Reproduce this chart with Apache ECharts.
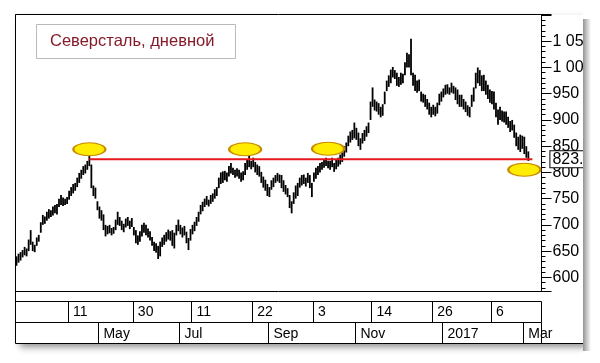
<!DOCTYPE html>
<html><head><meta charset="utf-8">
<script src="https://cdn.jsdelivr.net/npm/echarts@6/dist/echarts.min.js"></script>
<style>html,body{margin:0;padding:0;background:#fff}#c{width:600px;height:363px}</style>
</head><body><div id="c"></div>
<script>
// ---- data ----
const startDate = '2016-03-02';
const categoryCount = 260;
const holidays = ['2016-03-07','2016-03-08','2016-05-02','2016-05-03','2016-05-09','2016-06-13',
  '2016-11-04','2017-01-02','2017-02-23','2017-03-08'];

const lows = [622,628,632,638,642,640,650,662,650,648,660,668,685,700,702,708,712,715,718,722,
720,734,738,736,738,740,748,755,760,765,772,780,788,795,798,805,812,770,755,750,
728,712,708,690,678,682,684,680,683,690,700,698,690,686,695,698,692,696,680,665,
662,668,678,685,680,676,670,660,650,647,635,640,658,662,668,672,670,660,655,680,
688,682,676,680,665,652,670,682,688,698,706,720,726,734,738,735,740,744,750,755,
770,778,780,785,782,792,798,795,790,792,788,782,785,795,805,810,806,810,800,795,
792,780,771,765,755,753,767,772,780,783,780,770,763,758,753,732,722,740,750,755,
771,775,778,773,780,770,753,782,788,795,800,805,809,812,808,805,810,801,806,811,
815,820,830,838,850,857,862,865,862,850,843,855,860,868,875,900,925,918,916,910,
905,908,930,955,963,970,981,978,965,963,967,970,985,1000,1000,985,965,955,952,955,
935,933,925,920,910,905,910,907,912,928,935,943,948,950,948,952,950,938,930,925,
925,920,915,908,905,925,935,960,970,965,955,955,948,940,933,930,920,905,891,900,
897,895,891,885,877,880,866,850,843,839,845,835,828,822];
const highs = [640,645,648,652,658,655,672,690,668,662,676,681,705,719,716,725,730,728,735,738,
740,750,757,752,750,753,765,772,778,780,790,799,805,812,815,822,835,815,775,771,
745,735,728,720,700,698,700,694,696,710,725,715,708,702,712,715,708,713,696,690,
680,688,700,704,700,693,688,677,668,665,660,668,676,681,686,691,688,690,685,700,
710,700,695,698,687,675,692,700,706,715,725,738,744,750,755,748,757,760,768,772,
790,800,802,803,800,812,818,809,805,808,805,800,802,818,825,832,822,828,820,815,
812,801,792,786,778,772,785,790,795,799,796,795,785,776,770,757,745,762,775,780,
790,795,796,790,799,795,780,800,809,812,818,820,824,828,822,822,828,818,824,828,
834,838,850,857,870,878,881,895,885,876,865,875,881,888,895,935,962,939,935,932,
925,930,954,975,985,996,1001,995,990,982,990,988,1010,1028,1025,1055,990,986,975,977,
954,950,948,940,933,925,929,925,933,950,954,960,967,968,962,971,965,962,958,948,
948,940,935,928,925,948,962,990,1000,995,985,986,975,967,958,955,954,933,920,925,
918,916,916,906,898,900,891,876,868,872,870,868,850,840];

const yTickValues = [600,650,700,750,800,850,900,950,1000,1050];
const dayMarks = [['2016-04-11','11'],['2016-05-30','30'],['2016-07-11','11'],['2016-08-22','22'],
  ['2016-10-03','3'],['2016-11-14','14'],['2016-12-26','26'],['2017-02-06','6']];
const monthMarks = [['2016-05-04','May'],['2016-07-01','Jul'],['2016-09-01','Sep'],['2016-11-01','Nov'],
  ['2017-01-03','2017'],['2017-03-01','Mar']];

const levelLineIdx = [36, 255];
const levelValue = 825;
const levelLabel = '823.5';
const markerIdx = [36, 113, 154, 251];
const markerVal = [844, 844, 845, 805];
const titleText = 'Северсталь, дневной';

// ---- build ----
function tradingDays(start, n, hol) {
  const out = []; const d = new Date(start + 'T00:00:00Z');
  while (out.length < n) {
    const dow = d.getUTCDay(); const s = d.toISOString().slice(0, 10);
    if (dow !== 0 && dow !== 6 && hol.indexOf(s) < 0) out.push(s);
    d.setUTCDate(d.getUTCDate() + 1);
  }
  return out;
}
const categories = tradingDays(startDate, categoryCount, holidays);
const dayMap = Object.fromEntries(dayMarks);
const monthMap = Object.fromEntries(monthMarks);
const dayIdx = new Set(dayMarks.map(m => categories.indexOf(m[0])));
const monthIdx = new Set(monthMarks.map(m => categories.indexOf(m[0])));
const FONT = '"Liberation Sans", Arial, sans-serif';
const fmtY = v => yTickValues.indexOf(v) < 0 ? '' : (v >= 1000 ? '1 ' + String(v).slice(1) : String(v));

const barData = lows.map((l, i) => [i, l, highs[i]]);
const L = 15.5, W = 526;

const chart = echarts.init(document.getElementById('c'), null, {renderer: 'canvas'});
chart.setOption({
  animation: false,
  title: {
    text: titleText, left: 36, top: 24,
    padding: [9, 21, 9, 14], borderColor: '#b9b9b9', borderWidth: 1, backgroundColor: '#fff',
    textStyle: {fontSize: 16.5, fontWeight: 'normal', color: '#861a2a', fontFamily: FONT}
  },
  grid: [
    {left: L, top: 14.5, width: W, height: 277, show: true, borderColor: '#000', borderWidth: 1, backgroundColor: 'transparent'},
    {left: L, top: 301.5, width: W, height: 21},
    {left: L, top: 322.5, width: W, height: 21}
  ],
  xAxis: [
    {gridIndex: 0, type: 'category', data: categories, boundaryGap: true,
     axisLine: {show: false}, axisTick: {show: false}, axisLabel: {show: false}, splitLine: {show: false}},
    {gridIndex: 1, type: 'category', data: categories, boundaryGap: true, position: 'top',
     axisLine: {show: false}, axisTick: {show: false},
     splitLine: {show: true, interval: i => dayIdx.has(i), lineStyle: {color: '#000', width: 1}},
     axisLabel: {show: true, inside: true, interval: i => dayIdx.has(i), formatter: v => dayMap[v] || '',
       align: 'left', verticalAlign: 'middle', margin: 11, padding: [0, 0, 0, 4], fontSize: 14, color: '#000', fontFamily: FONT}},
    {gridIndex: 2, type: 'category', data: categories, boundaryGap: true, position: 'top',
     axisLine: {show: false}, axisTick: {show: false},
     splitLine: {show: true, interval: i => monthIdx.has(i), lineStyle: {color: '#000', width: 1}},
     axisLabel: {show: true, inside: true, interval: i => monthIdx.has(i), formatter: v => monthMap[v] || '',
       align: 'left', verticalAlign: 'middle', margin: 11.5, padding: [0, 0, 0, 4], fontSize: 14, color: '#000', fontFamily: FONT}}
  ],
  yAxis: [
    {gridIndex: 0, type: 'value', position: 'right', min: 573, max: 1101, splitNumber: 10,
     axisLine: {show: true, lineStyle: {color: '#000', width: 1}},
     axisTick: {show: true, length: 10, lineStyle: {color: '#000'}},
     minorTick: {show: true, splitNumber: 5, length: 4, lineStyle: {color: '#000'}},
     splitLine: {show: false},
     axisLabel: {margin: 11, fontSize: 16, color: '#000', fontFamily: FONT, formatter: fmtY}},
    {gridIndex: 1, type: 'value', show: false},
    {gridIndex: 2, type: 'value', show: false}
  ],
  series: [
    {type: 'custom', xAxisIndex: 0, yAxisIndex: 0, data: barData, encode: {x: 0, y: [1, 2]}, z: 3,
     renderItem: (params, api) => {
       const i = api.value(0);
       const top = api.coord([i, api.value(2)]);
       const bot = api.coord([i, api.value(1)]);
       return {type: 'rect', shape: {x: top[0] - 0.9, y: top[1], width: 1.8, height: bot[1] - top[1]}, style: {fill: '#000'}};
     }},
    {type: 'line', xAxisIndex: 0, yAxisIndex: 0, z: 4, symbol: 'none',
     data: levelLineIdx.map(i => [i, levelValue]),
     lineStyle: {color: '#e5191c', width: 2},
     endLabel: {show: true, formatter: levelLabel, distance: 18, backgroundColor: '#fff', borderColor: '#000', borderWidth: 1,
       padding: [1, 2, 0, 2], fontSize: 16, lineHeight: 15, color: '#000', fontFamily: FONT}},
    {type: 'scatter', xAxisIndex: 0, yAxisIndex: 0, z: 5,
     symbol: 'path://M0,6.5C0,2.9,7.2,0,16,0C24.8,0,32,2.9,32,6.5C32,10.1,24.8,13,16,13C7.2,13,0,10.1,0,6.5Z',
     symbolSize: [32, 13], symbolKeepAspect: false,
     data: markerIdx.map((i, k) => [i, markerVal[k]]),
     itemStyle: {color: '#ffec00', borderColor: '#c98a00', borderWidth: 1.5, opacity: 1}}
  ],
  graphic: [
    {type: 'rect', z: -10, shape: {x: 16, y: 15, width: 567, height: 328},
     style: {fill: '#fff', shadowBlur: 7, shadowOffsetX: 4, shadowOffsetY: 4, shadowColor: 'rgba(0,0,0,0.45)'}},
    {type: 'line', z: 10, shape: {x1: 15.5, y1: 14.5, x2: 15.5, y2: 343.5}, style: {stroke: '#000', lineWidth: 1}},
    {type: 'line', z: 10, shape: {x1: 15.5, y1: 343.5, x2: 583, y2: 343.5}, style: {stroke: '#000', lineWidth: 1}},
    {type: 'line', z: 10, shape: {x1: 15.5, y1: 301.5, x2: 541.5, y2: 301.5}, style: {stroke: '#000', lineWidth: 1}},
    {type: 'line', z: 10, shape: {x1: 15.5, y1: 322.5, x2: 541.5, y2: 322.5}, style: {stroke: '#000', lineWidth: 1}},
    {type: 'rect', z: 100, shape: {x: 583, y: 0, width: 17, height: 363}, style: {fill: '#fff'}},
    {type: 'rect', z: 101, shape: {x: 583, y: 19, width: 8, height: 332},
     style: {fill: new echarts.graphic.LinearGradient(0, 0, 1, 0, [{offset: 0, color: 'rgba(0,0,0,0.42)'}, {offset: 1, color: 'rgba(0,0,0,0)'}])}}
  ]
});
</script></body></html>
